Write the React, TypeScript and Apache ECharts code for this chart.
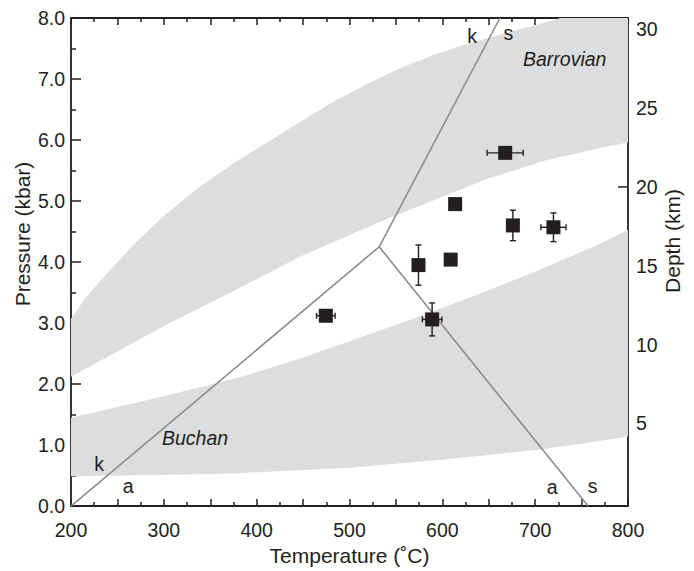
import React, { useEffect, useRef } from 'react';
import * as echarts from 'echarts';

// ---- data ----
const tempLabels = [200, 300, 400, 500, 600, 700, 800];
const depthTicks = [5, 10, 15, 20, 25, 30];

// sample points (Temperature °C, Pressure kbar) with errors
const pointT = [474.5, 589, 574.3, 609, 613.8, 676, 719.7, 667.7];
const pointP = [3.12, 3.06, 3.95, 4.04, 4.95, 4.6, 4.57, 5.79];
const errT = [10, 10.5, 0, 0, 0, 0, 13.5, 19.4];
const errP = [0, 0.27, 0.33, 0, 0, 0.25, 0.235, 0];

// Barrovian band boundaries
const barrovianUpper = [
  [200, 3.07], [215, 3.4], [231, 3.68], [267, 4.28], [300, 4.76], [339, 5.24], [375, 5.62], [411, 5.96],
  [447, 6.3], [483, 6.63], [519, 6.92], [555, 7.18], [590, 7.39], [625, 7.57], [662, 7.73], [705, 7.9],
  [727, 8.0], [800, 8.0],
];
const barrovianLower = [
  [200, 2.12], [300, 2.95], [382, 3.58], [447, 4.09], [533, 4.66], [648, 5.36], [710, 5.66], [770, 5.87], [800, 5.96],
];
// Buchan band boundaries
const buchanUpper = [
  [200, 1.45], [300, 1.8], [382, 2.11], [447, 2.42], [530, 2.86], [608, 3.29], [700, 3.84], [770, 4.3], [800, 4.53],
];
const buchanLower = [
  [200, 0.49], [300, 0.51], [382, 0.54], [500, 0.63], [608, 0.77], [700, 0.92], [750, 1.02], [800, 1.14],
];

// Al2SiO5 phase boundaries
const kyaniteAndalusite = [[200, 0], [532, 4.25]];
const kyaniteSillimanite = [[532, 4.25], [662, 8]];
const andalusiteSillimanite = [[532, 4.25], [757, 0]];

// annotations [T, P, text, italic]
const annotations: [number, number, string, boolean][] = [
  [230.2, 0.69, 'k', false],
  [261.7, 0.33, 'a', false],
  [333.6, 1.11, 'Buchan', true],
  [632, 7.7, 'k', false],
  [671.1, 7.76, 's', false],
  [731.8, 7.32, 'Barrovian', true],
  [718.2, 0.31, 'a', false],
  [762, 0.33, 's', false],
];

const FONT = 'Liberation Sans, Arial, Helvetica, sans-serif';
const INK = '#231f20';
const BAND = '#dcdddf';
const LINE = '#8c8c8c';

export default function App() {
  const ref = useRef<HTMLDivElement>(null);
  useEffect(() => {
    if (!ref.current) return;
    const chart = echarts.init(ref.current, undefined, { renderer: 'svg' });
    const bands = [
      { upper: barrovianUpper, lower: barrovianLower },
      { upper: buchanUpper, lower: buchanLower },
    ];
    const tickStyle = { color: INK, width: 1.5 };
    const axisLine = { show: true, onZero: false, lineStyle: { color: INK, width: 1.8 } };
    const labelStyle = { color: INK, fontSize: 19.5, fontFamily: FONT };

    const option: any = {
      animation: false,
      grid: { left: 71, right: 66, top: 18, bottom: 61, containLabel: false },
      xAxis: [
        {
          type: 'value', position: 'bottom', min: 200, max: 800, interval: 50,
          axisLine,
          axisTick: { show: true, inside: true, length: 7, lineStyle: tickStyle },
          minorTick: { show: true, splitNumber: 2, length: 4, lineStyle: tickStyle },
          splitLine: { show: false },
          axisLabel: {
            ...labelStyle, margin: 14,
            formatter: (v: number) => (tempLabels.includes(v) ? String(v) : ''),
          },
          name: 'Temperature (˚C)', nameLocation: 'middle', nameGap: 35,
          nameTextStyle: { color: INK, fontSize: 21, fontFamily: FONT },
        },
        {
          type: 'value', position: 'top', min: 200, max: 800, interval: 50,
          axisLine,
          axisTick: { show: true, inside: true, length: 7, lineStyle: tickStyle },
          minorTick: { show: true, splitNumber: 2, length: 4, lineStyle: tickStyle },
          splitLine: { show: false },
          axisLabel: { show: false },
        },
      ],
      yAxis: [
        {
          type: 'value', position: 'left', min: 0, max: 8, interval: 1,
          axisLine,
          axisTick: { show: true, inside: true, length: 10, lineStyle: tickStyle },
          minorTick: { show: true, splitNumber: 2, length: 5, lineStyle: tickStyle },
          splitLine: { show: false },
          axisLabel: { ...labelStyle, margin: 6, formatter: (v: number) => v.toFixed(1) },
        },
        {
          type: 'value', position: 'right', min: -0.24, max: 30.7,
          axisLine,
          axisTick: { show: true, inside: true, length: 10, lineStyle: tickStyle, customValues: depthTicks },
          splitLine: { show: false },
          axisLabel: { ...labelStyle, margin: 8, customValues: depthTicks, formatter: (v: number) => String(v) },
        },
      ],
      graphic: [
        {
          type: 'text', x: 22, y: 234, rotation: Math.PI / 2, silent: true,
          style: { text: 'Pressure (kbar)', fontSize: 21, fontFamily: FONT, fill: INK, align: 'center', verticalAlign: 'middle' },
        },
        {
          type: 'text', x: 672, y: 241, rotation: Math.PI / 2, silent: true,
          style: { text: 'Depth (km)', fontSize: 21, fontFamily: FONT, fill: INK, align: 'center', verticalAlign: 'middle' },
        },
      ],
      series: [
        {
          type: 'custom', name: 'bands', silent: true, z: 1, clip: true,
          data: bands.map((_, i) => [i, 0]),
          renderItem: (params: any, api: any) => {
            const b = bands[params.dataIndex];
            const pts = [...b.upper, ...b.lower.slice().reverse()].map((p) => api.coord(p));
            return { type: 'polygon', shape: { points: pts }, style: { fill: BAND } };
          },
        },
        ...[kyaniteAndalusite, kyaniteSillimanite, andalusiteSillimanite].map((d) => ({
          type: 'line', data: d, symbol: 'none', silent: true, z: 2,
          lineStyle: { color: LINE, width: 1.6 },
        })),
        {
          type: 'custom', name: 'errors', silent: true, z: 3,
          data: pointT.map((t, i) => [t, pointP[i], errT[i], errP[i]]),
          renderItem: (params: any, api: any) => {
            const t = api.value(0), p = api.value(1), et = api.value(2), ep = api.value(3);
            const children: any[] = [];
            const st = { stroke: INK, lineWidth: 1.4 };
            const cap = 3;
            if (et > 0) {
              const a = api.coord([t - et, p]);
              const b = api.coord([t + et, p]);
              children.push({ type: 'line', shape: { x1: a[0], y1: a[1], x2: b[0], y2: b[1] }, style: st });
              children.push({ type: 'line', shape: { x1: a[0], y1: a[1] - cap, x2: a[0], y2: a[1] + cap }, style: st });
              children.push({ type: 'line', shape: { x1: b[0], y1: b[1] - cap, x2: b[0], y2: b[1] + cap }, style: st });
            }
            if (ep > 0) {
              const a = api.coord([t, p - ep]);
              const b = api.coord([t, p + ep]);
              children.push({ type: 'line', shape: { x1: a[0], y1: a[1], x2: b[0], y2: b[1] }, style: st });
              children.push({ type: 'line', shape: { x1: a[0] - cap, y1: a[1], x2: a[0] + cap, y2: a[1] }, style: st });
              children.push({ type: 'line', shape: { x1: b[0] - cap, y1: b[1], x2: b[0] + cap, y2: b[1] }, style: st });
            }
            return { type: 'group', children };
          },
        },
        {
          type: 'scatter', name: 'samples', z: 4, silent: true,
          symbol: 'rect', symbolSize: 14,
          itemStyle: { color: INK, opacity: 1 },
          data: pointT.map((t, i) => [t, pointP[i]]),
        },
        {
          type: 'scatter', name: 'labels', z: 5, silent: true, symbolSize: 0,
          itemStyle: { opacity: 1 },
          data: annotations.map(([t, p, txt, it]) => ({
            value: [t, p], name: txt,
            label: {
              show: true, position: 'inside', formatter: txt, color: INK,
              fontSize: 19.5, fontFamily: FONT, fontStyle: it ? 'italic' : 'normal',
            },
          })),
        },
      ],
    };
    chart.setOption(option);
    return () => chart.dispose();
  }, []);
  return <div ref={ref} style={{ position: 'absolute', left: 0, top: 0, width: 694, height: 571, background: '#fff' }} />;
}
